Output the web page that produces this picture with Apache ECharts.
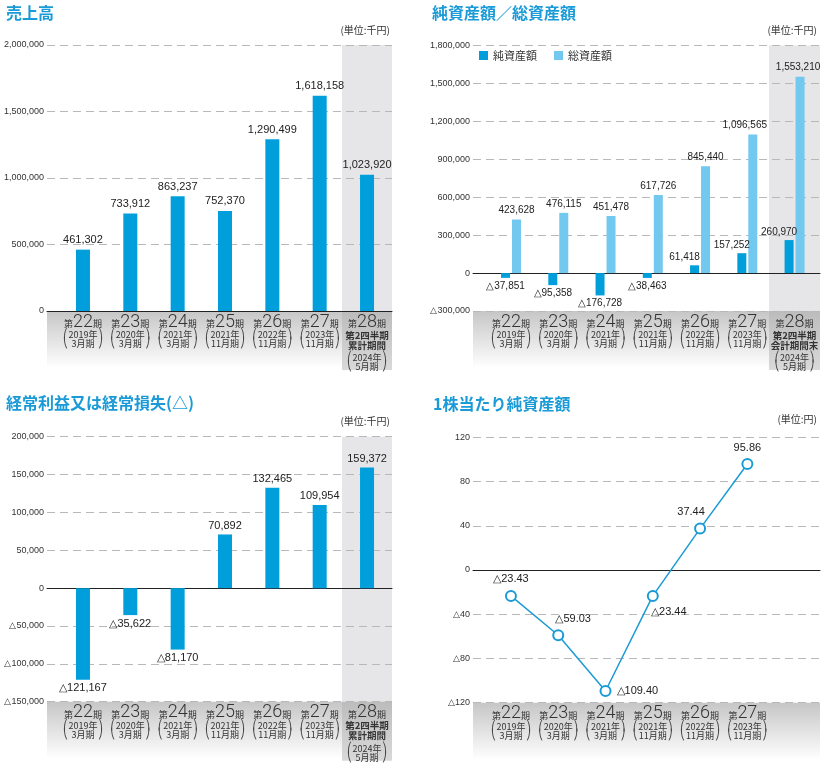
<!DOCTYPE html>
<html><head><meta charset="utf-8">
<script src="https://cdn.jsdelivr.net/npm/echarts@6/dist/echarts.min.js"></script>
<style>html,body{margin:0;padding:0;background:#fff}#c{width:827px;height:768px}</style>
</head><body><div id="c"></div>
<script>
// ---- data ----
const periodNo = ['22','23','24','25','26','27','28'];
const periodYear = ['2019年','2020年','2021年','2021年','2022年','2023年','2024年'];
const periodMonth = ['3月期','3月期','3月期','11月期','11月期','11月期','5月期'];
const notes28Sales = ['第2四半期','累計期間'];
const notes28Assets = ['第2四半期','会計期間末'];
const salesValues = [461302, 733912, 863237, 752370, 1290499, 1618158, 1023920];
const netAssets = [-37851, -95358, -176728, -38463, 61418, 157252, 260970];
const totalAssets = [423628, 476115, 451478, 617726, 845440, 1096565, 1553210];
const ordinaryIncome = [-121167, -35622, -81170, 70892, 132465, 109954, 159372];
const bpsValues = [-23.43, -59.03, -109.40, -23.44, 37.44, 95.86, null];
const salesAxis = [0, 2000000, 500000];
const assetsAxis = [-300000, 1800000, 300000];
const incomeAxis = [-150000, 200000, 50000];
const bpsAxis = [-120, 120, 40];

// ---- helpers ----
const BLUE = '#009fdb', LIGHT = '#72c8ee', TITLE = '#1a9ad6';
const NARROW = '"Liberation Sans Narrow","Liberation Sans",Arial,sans-serif';
const CJK = '"Noto Sans CJK JP",sans-serif';
function fmt(v, d) {
  if (v === null || v === undefined) return '';
  const a = Math.abs(v);
  const s = d ? a.toFixed(d) : a.toLocaleString('en-US');
  return (v < 0 ? '△' : '') + s;
}
const cats = periodNo.map(n => '第' + n + '期');
function catFormatter(notes, count) {
  return function (val, idx) {
    if (idx >= count) return '';
    const L = ['{s|第}{n|' + periodNo[idx] + '}{s|期}'];
    if (idx === 6 && notes) { L.push('{m|' + notes[0] + '}', '{m|' + notes[1] + '}', '{sp| }'); }
    L.push('{b|⎛}{y|' + periodYear[idx] + '}{b|⎞}', '{b|⎝}{y|' + periodMonth[idx] + '}{b|⎠}');
    return L.join('\n');
  };
}
const rich = {
  s: {fontSize: 9, fontFamily: CJK, color: '#333', lineHeight: 16, padding: [4,0,0,0]},
  n: {fontSize: 18, fontFamily: 'Roboto', fontWeight: 300, color: '#333', lineHeight: 16},
  m: {fontSize: 9.5, fontFamily: CJK, fontWeight: 'bold', color: '#333', lineHeight: 10},
  sp: {fontSize: 3, lineHeight: 3},
  b: {fontSize: 10, fontFamily: '"DejaVu Sans"', color: '#444', lineHeight: 9},
  y: {fontSize: 9, fontFamily: CJK, color: '#333', lineHeight: 9, width: 30, align: 'center'}
};
const grids = [], xAxes = [], yAxes = [], series = [], graphics = [];
function panel(gx, gy, gw, gh, bx, bw, range, notes, count, hl) {
  const ia = grids.length;
  grids.push({left: gx, top: gy, width: gw, height: gh});
  grids.push({left: bx, top: gy, width: bw, height: gh});
  xAxes.push({gridIndex: ia, type: 'category', data: [''], axisLine: {show: true, onZero: true, lineStyle: {color: '#222', width: 1}}, axisTick: {show: false}, axisLabel: {show: false}});
  yAxes.push({gridIndex: ia, type: 'value', min: range[0], max: range[1], interval: range[2],
    axisLine: {show: false}, axisTick: {show: false},
    axisLabel: {margin: 3, fontSize: 9, fontFamily: NARROW, color: '#333', formatter: v => fmt(v)},
    splitLine: {lineStyle: {color: '#b8b8b8', type: [8, 5], width: 1}}});
  xAxes.push({gridIndex: ia + 1, type: 'category', data: cats, axisLine: {show: false, onZero: false}, axisTick: {show: false},
    axisLabel: {interval: 0, margin: 3, formatter: catFormatter(notes, count), rich: rich, align: 'center'}});
  yAxes.push({gridIndex: ia + 1, type: 'value', min: range[0], max: range[1], interval: range[2], show: false, splitLine: {show: false}});
  // label zone background
  graphics.push({type: 'rect', z: -1, shape: {x: gx, y: gy + gh, width: gw, height: 57},
    style: {fill: new echarts.graphic.LinearGradient(0, 0, 0, 1, [{offset: 0, color: '#c6c6c6'}, {offset: 1, color: '#ffffff'}])}});
  if (hl) {
    graphics.push({type: 'rect', z: -1, shape: {x: hl[0], y: gy, width: hl[1], height: gh}, style: {fill: '#e6e6e8'}});
    graphics.push({type: 'rect', z: -1, shape: {x: hl[0], y: gy + gh, width: hl[1], height: 59},
      style: {fill: new echarts.graphic.LinearGradient(0, 0, 0, 1, [{offset: 0, color: '#bcbcbc'}, {offset: 1, color: '#d9d9d9'}])}});
  }
  return ia + 1;
}
const valLabel = {show: true, fontSize: 11, fontFamily: NARROW, color: '#222', formatter: p => fmt(p.value)};
const valLabelSmall = Object.assign({}, valLabel, {fontSize: 10});

// panel 1
let g = panel(47, 45, 345, 266, 59.3, 331.4, salesAxis, notes28Sales, 7, [342, 50]);
series.push({type: 'bar', xAxisIndex: g, yAxisIndex: g, barWidth: 14, itemStyle: {color: BLUE},
  label: Object.assign({position: 'top', distance: 4}, valLabel), data: salesValues});
// panel 2
g = panel(473, 45.5, 347, 265.5, 487.4, 330.8, assetsAxis, notes28Assets, 7, [769, 51]);
series.push({type: 'bar', name: '純資産額', xAxisIndex: g, yAxisIndex: g, barWidth: 9, barGap: '22%', itemStyle: {color: BLUE},
  label: Object.assign({distance: 3}, valLabelSmall),
  data: netAssets.map(v => ({value: v, label: v < 0 ? {position: 'bottom'} : {position: 'top', offset: [-10, 0]}}))});
series.push({type: 'bar', name: '総資産額', xAxisIndex: g, yAxisIndex: g, barWidth: 9, itemStyle: {color: LIGHT},
  label: Object.assign({position: 'top', distance: 4}, valLabelSmall),
  data: totalAssets.map((v, i) => ({value: v, label: i === 5 ? {offset: [-8, 0]} : (i === 6 ? {offset: [-2, 0]} : {})}))});
// panel 3
g = panel(47, 436.7, 345, 265, 59.3, 331.4, incomeAxis, notes28Sales, 7, [342, 50]);
series.push({type: 'bar', xAxisIndex: g, yAxisIndex: g, barWidth: 14, itemStyle: {color: BLUE},
  label: Object.assign({distance: 3}, valLabel),
  data: ordinaryIncome.map(v => ({value: v, label: {position: v < 0 ? 'bottom' : 'top'}}))});
// panel 4
g = panel(473, 437.3, 347, 265.4, 487.3, 331, bpsAxis, null, 6, null);
const bpsLabelPos = [['top', [0, 0]], ['top', [15, 0]], ['right', [0, 0]], ['bottom', [16, 0]], ['top', [-9, 0]], ['top', [0, 0]], ['top', [0, 0]]];
series.push({type: 'line', xAxisIndex: g, yAxisIndex: g, symbol: 'circle', symbolSize: 10,
  lineStyle: {color: '#1b9bd5', width: 1.5}, itemStyle: {color: '#fff', borderColor: '#1b9bd5', borderWidth: 2},
  label: {show: true, fontSize: 11, fontFamily: NARROW, color: '#222', distance: 5, formatter: p => fmt(p.value, 2)},
  data: bpsValues.map((v, i) => ({value: v, label: {position: bpsLabelPos[i][0], offset: bpsLabelPos[i][1]}}))});

const titleStyle = {fontFamily: CJK, fontWeight: 'bold', fontSize: 16, color: TITLE};
const unitStyle = {fontFamily: CJK, fontSize: 10, color: '#333', fontWeight: 'normal'};
const chart = echarts.init(document.getElementById('c'), null, {renderer: 'canvas'});
chart.setOption({
  animation: false,
  title: [
    {text: '売上高', left: 6, top: 5, padding: 0, textStyle: titleStyle},
    {text: '純資産額／総資産額', left: 432, top: 5, padding: 0, textStyle: titleStyle},
    {text: '経常利益又は経常損失(△)', left: 6, top: 395, padding: 0, textStyle: titleStyle},
    {text: '1株当たり純資産額', left: 433, top: 396, padding: 0, textStyle: titleStyle},
    {text: '(単位:千円)', right: 437, top: 25, padding: 0, textStyle: unitStyle},
    {text: '(単位:千円)', right: 10, top: 25, padding: 0, textStyle: unitStyle},
    {text: '(単位:千円)', right: 437, top: 416, padding: 0, textStyle: unitStyle},
    {text: '(単位:円)', right: 10, top: 414, padding: 0, textStyle: unitStyle}
  ],
  legend: {left: 479, top: 50, itemWidth: 9, itemHeight: 9, itemGap: 17, icon: 'rect', padding: 0,
    textStyle: {fontFamily: CJK, fontSize: 11, color: '#333'}, data: ['純資産額', '総資産額']},
  grid: grids, xAxis: xAxes, yAxis: yAxes, series: series,
  graphic: {elements: graphics}
});
</script></body></html>
